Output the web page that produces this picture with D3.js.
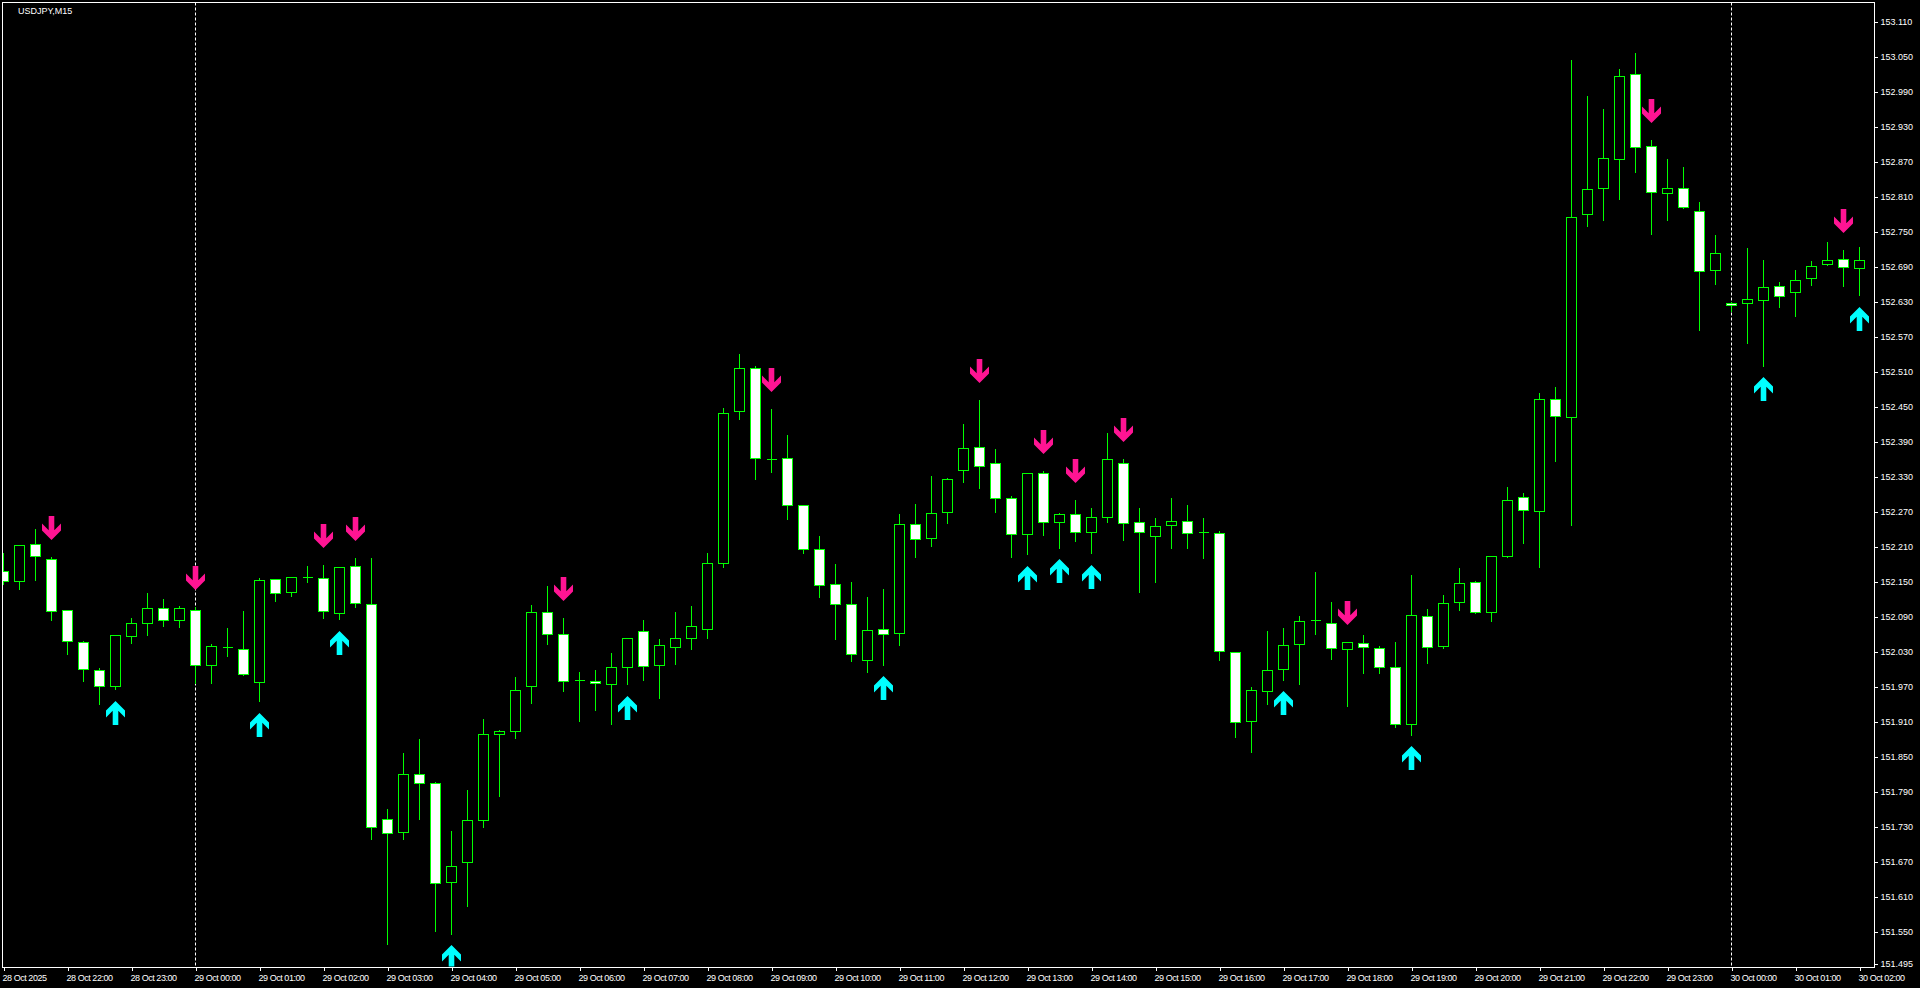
<!DOCTYPE html>
<html>
<head>
<meta charset="utf-8">
<script src="https://cdn.jsdelivr.net/npm/d3@7"></script>
<style>
html,body{margin:0;padding:0;background:#000;overflow:hidden;}
svg{display:block;}
</style>
</head>
<body>
<svg id="chart" width="1920" height="988"></svg>
<script>
// ---------------- DATA ----------------
const symbolTitle = "USDJPY,M15";

const opens = [
152.168,152.151,152.214,152.188,152.101,152.046,151.998,151.971,152.056,152.079,
152.104,152.084,152.101,152.007,152.037,152.034,151.978,152.154,152.132,152.158,
152.156,152.096,152.176,152.111,151.742,151.720,151.820,151.805,151.635,151.668,
151.740,151.889,151.894,151.971,152.098,152.060,151.980,151.979,151.974,152.003,
152.065,152.007,152.038,152.053,152.069,152.182,152.442,152.516,152.360,152.362,
152.281,152.206,152.146,152.111,152.015,152.069,152.062,152.249,152.225,152.269,
152.341,152.380,152.353,152.293,152.231,152.336,152.252,152.266,152.235,152.260,
152.353,152.252,152.228,152.247,152.254,152.234,152.233,152.029,151.911,151.962,
152.000,152.042,152.083,152.078,152.034,152.044,152.036,152.003,151.905,152.090,
152.039,152.115,152.149,152.097,152.193,152.295,152.271,152.463,152.432,152.780,
152.825,152.874,153.020,152.896,152.816,152.824,152.785,152.684,152.628,152.627,
152.633,152.657,152.646,152.670,152.694,152.703,152.687];

const highs = [
152.201,152.212,152.242,152.194,152.101,152.050,152.003,152.060,152.088,152.131,
152.122,152.110,152.108,152.044,152.072,152.101,152.157,152.156,152.159,152.178,
152.180,152.177,152.192,152.192,151.762,151.858,151.882,151.808,151.723,151.794,
151.916,151.896,151.987,152.112,152.143,152.089,151.997,152.000,152.028,152.055,
152.086,152.053,152.099,152.110,152.201,152.449,152.542,152.521,152.448,152.403,
152.283,152.230,152.182,152.151,152.125,152.139,152.267,152.285,152.332,152.329,
152.422,152.463,152.379,152.298,152.338,152.341,152.269,152.292,152.278,152.406,
152.362,152.278,152.260,152.295,152.283,152.260,152.238,152.031,151.971,152.067,
152.072,152.093,152.168,152.117,152.048,152.060,152.041,152.048,152.162,152.104,
152.129,152.175,152.152,152.193,152.314,152.303,152.475,152.485,153.046,152.984,
152.961,153.030,153.058,152.909,152.876,152.862,152.802,152.746,152.630,152.723,
152.703,152.665,152.686,152.701,152.734,152.720,152.725];

const lows = [
152.147,152.139,152.154,152.086,152.027,151.980,151.941,151.967,152.046,152.059,
152.075,152.073,151.977,151.977,152.023,151.991,151.946,152.118,152.126,152.150,
152.089,152.087,152.107,151.710,151.529,151.710,151.744,151.552,151.547,151.595,
151.730,151.783,151.883,151.943,152.044,151.963,151.912,151.931,151.907,151.975,
151.982,151.952,152.010,152.036,152.055,152.177,152.430,152.327,152.339,152.259,
152.201,152.125,152.053,152.015,151.997,152.009,152.043,152.194,152.213,152.252,
152.322,152.311,152.270,152.193,152.198,152.232,152.209,152.221,152.200,152.253,
152.222,152.133,152.150,152.209,152.209,152.192,152.016,151.885,151.859,151.941,
151.983,151.975,152.062,152.018,151.938,151.994,151.994,151.902,151.889,152.012,
152.037,152.102,152.097,152.083,152.193,152.217,152.176,152.358,152.248,152.761,
152.771,152.808,152.853,152.747,152.772,152.792,152.582,152.661,152.615,152.560,
152.521,152.622,152.606,152.660,152.694,152.659,152.642];

const closes = [
152.151,152.212,152.193,152.099,152.048,152.000,151.971,152.058,152.079,152.104,
152.084,152.104,152.007,152.039,152.037,151.991,152.152,152.130,152.157,152.158,
152.099,152.175,152.113,151.729,151.719,151.820,151.805,151.633,151.662,151.740,
151.889,151.894,151.964,152.098,152.060,151.979,151.980,151.976,152.003,152.053,
152.005,152.040,152.053,152.074,152.182,152.439,152.516,152.362,152.360,152.281,
152.206,152.144,152.111,152.026,152.067,152.060,152.249,152.223,152.267,152.326,
152.379,152.348,152.293,152.231,152.336,152.252,152.266,152.235,152.260,152.360,
152.250,152.235,152.245,152.254,152.233,152.234,152.031,151.909,151.964,151.998,
152.041,152.082,152.083,152.036,152.046,152.037,152.003,151.905,152.093,152.038,
152.113,152.147,152.097,152.193,152.289,152.273,152.463,152.434,152.774,152.822,
152.876,153.016,152.895,152.818,152.824,152.792,152.682,152.713,152.624,152.634,
152.655,152.640,152.667,152.691,152.701,152.689,152.701];

// signal arrows (bar indices)
const sellSignals = [3,12,20,22,35,48,61,65,67,70,84,103,115];
const buySignals  = [7,16,21,28,39,55,64,66,68,80,88,110,116];

// day separators (bar indices)
const daySeparators = [12,108];

// price axis labels
const priceTicks = [153.110,153.050,152.990,152.930,152.870,152.810,152.750,152.690,
152.630,152.570,152.510,152.450,152.390,152.330,152.270,152.210,152.150,152.090,
152.030,151.970,151.910,151.850,151.790,151.730,151.670,151.610,151.550,151.495];

// time axis labels (every 4th bar)
const timeLabels = ["28 Oct 2025","28 Oct 22:00","28 Oct 23:00","29 Oct 00:00","29 Oct 01:00",
"29 Oct 02:00","29 Oct 03:00","29 Oct 04:00","29 Oct 05:00","29 Oct 06:00","29 Oct 07:00",
"29 Oct 08:00","29 Oct 09:00","29 Oct 10:00","29 Oct 11:00","29 Oct 12:00","29 Oct 13:00",
"29 Oct 14:00","29 Oct 15:00","29 Oct 16:00","29 Oct 17:00","29 Oct 18:00","29 Oct 19:00",
"29 Oct 20:00","29 Oct 21:00","29 Oct 22:00","29 Oct 23:00","30 Oct 00:00","30 Oct 01:00",
"30 Oct 02:00"];

// ---------------- LAYOUT ----------------
const W = 1920, H = 988;
const plotL = 2.5, plotT = 2.5, plotR = 1874.5, plotB = 966.5;
const priceMin = 151.4895, priceMax = 153.1435;
const nBars = opens.length;

const svg = d3.select("#chart");
svg.append("rect").attr("width", W).attr("height", H).attr("fill", "#000");

const x = d3.scaleLinear().domain([0, nBars - 1]).range([3.5, 1859.5]);
const y = d3.scaleLinear().domain([priceMin, priceMax]).range([plotB + 0.5, plotT]);
const py = v => Math.floor(y(v)) + 0.5;

svg.append("defs").append("clipPath").attr("id", "plotClip")
  .append("rect").attr("x", plotL).attr("y", plotT)
  .attr("width", plotR - plotL).attr("height", plotB - plotT);

const plot = svg.append("g").attr("clip-path", "url(#plotClip)");

// day separators
plot.selectAll("line.sep").data(daySeparators).join("line")
  .attr("class", "sep")
  .attr("x1", d => x(d)).attr("x2", d => x(d))
  .attr("y1", plotT).attr("y2", plotB)
  .attr("stroke", "#fff").attr("stroke-width", 1)
  .attr("stroke-dasharray", "3,2");

// candles
const bars = d3.range(nBars).map(i => ({i, o: opens[i], h: highs[i], l: lows[i], c: closes[i]}));
const green = "#00ff00";
const cg = plot.selectAll("g.candle").data(bars).join("g").attr("class", "candle")
  .attr("shape-rendering", "crispEdges");
cg.append("line")
  .attr("x1", d => x(d.i)).attr("x2", d => x(d.i))
  .attr("y1", d => py(d.h)).attr("y2", d => py(d.l) + 1)
  .attr("stroke", green).attr("stroke-width", 1);
cg.append("path")
  .attr("d", d => {
    const cx = x(d.i);
    const yt = py(Math.max(d.o, d.c)), yb = py(Math.min(d.o, d.c));
    return `M${cx - 5},${yt}H${cx + 5}V${yb}H${cx - 5}Z`;
  })
  .attr("fill", d => d.c < d.o ? "#fff" : "#000")
  .attr("stroke", green).attr("stroke-width", 1);

// arrows
const arrowPts = [[0,0],[-9.5,9.5],[-9.5,16.5],[-2.8,9.8],[-2.8,24],[2.8,24],[2.8,9.8],[9.5,16.5],[9.5,9.5]];
const upPath = "M" + arrowPts.map(p => p.join(",")).join("L") + "Z";
const downPath = "M" + arrowPts.map(p => [p[0], -p[1]].join(",")).join("L") + "Z";

plot.selectAll("path.sell").data(sellSignals).join("path")
  .attr("class", "sell")
  .attr("d", downPath)
  .attr("transform", d => `translate(${x(d)},${Math.round(y(highs[d])) - 16})`)
  .attr("fill", "#ff1493");

plot.selectAll("path.buy").data(buySignals).join("path")
  .attr("class", "buy")
  .attr("d", upPath)
  .attr("transform", d => `translate(${x(d)},${Math.round(y(lows[d])) + 12})`)
  .attr("fill", "#00ffff");

// frame
svg.append("rect")
  .attr("x", plotL).attr("y", plotT)
  .attr("width", plotR - plotL).attr("height", plotB + 0.5 - plotT)
  .attr("fill", "none").attr("stroke", "#fff").attr("stroke-width", 1)
  .attr("shape-rendering", "crispEdges");

// price axis
const yAxis = d3.axisRight(y).tickValues(priceTicks).tickSize(3).tickPadding(3)
  .tickFormat(d3.format(".3f"));
const gy = svg.append("g").attr("transform", `translate(${plotR},0)`).call(yAxis);
gy.select(".domain").remove();
gy.selectAll(".tick line").attr("stroke", "#fff").attr("shape-rendering", "crispEdges");
gy.selectAll(".tick text").attr("fill", "#fff")
  .style("font-family", "'Liberation Sans', Arial, sans-serif").style("font-size", "9px");

// time axis
const labelIdx = timeLabels.map((t, k) => k * 4);
const xAxis = d3.axisBottom(x).tickValues(labelIdx).tickSize(4).tickPadding(4)
  .tickFormat((d, k) => timeLabels[k]);
const gx = svg.append("g").attr("transform", `translate(0,${plotB + 0.5})`).call(xAxis);
gx.select(".domain").remove();
gx.selectAll(".tick line").attr("stroke", "#fff").attr("shape-rendering", "crispEdges");
gx.selectAll(".tick text").attr("fill", "#fff")
  .attr("text-anchor", "start").attr("x", -1.5)
  .style("font-family", "'Liberation Sans', Arial, sans-serif")
  .style("font-size", "9px").style("letter-spacing", "-0.45px");

// title
svg.append("text").attr("x", 18).attr("y", 14)
  .attr("fill", "#fff")
  .style("font-family", "'Liberation Sans', Arial, sans-serif").style("font-size", "9px")
  .text(symbolTitle);
</script>
</body>
</html>
